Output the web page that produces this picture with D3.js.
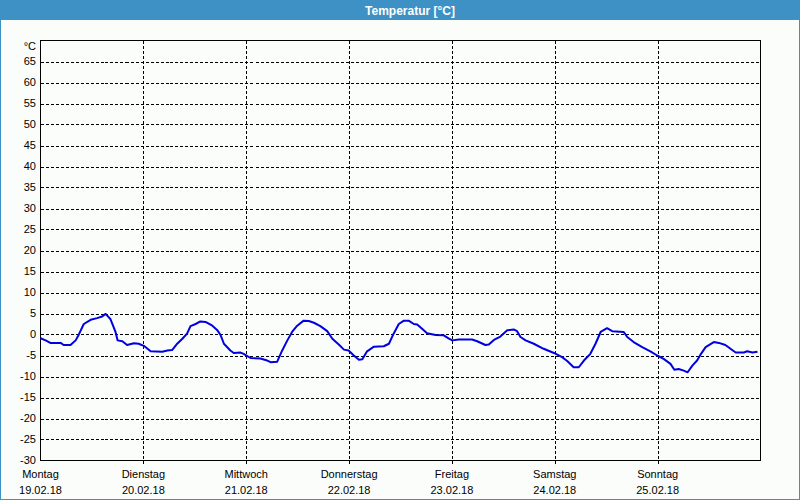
<!DOCTYPE html>
<html>
<head>
<meta charset="utf-8">
<script src="https://cdn.jsdelivr.net/npm/d3@7"></script>
<style>
  html, body { margin: 0; padding: 0; background: #fafdfa; }
  svg { display: block; }
  text { font-family: "Liberation Sans", Arial, sans-serif; }
</style>
</head>
<body>
<svg id="chart" width="800" height="500"></svg>
<script>
// ---- data ----
const title = "Temperatur [°C]";
const unitLabel = "°C";
const dayNames = ["Montag", "Dienstag", "Mittwoch", "Donnerstag", "Freitag", "Samstag", "Sonntag"];
const dayDates = ["19.02.18", "20.02.18", "21.02.18", "22.02.18", "23.02.18", "24.02.18", "25.02.18"];
const yTicks = [-30, -25, -20, -15, -10, -5, 0, 5, 10, 15, 20, 25, 30, 35, 40, 45, 50, 55, 60, 65];
// hours since Monday 19.02.18 00:00
const hours = [0, 1.2, 2.3, 4.7, 5.4, 7.0, 8.2, 8.9, 10.1, 11.7, 13.2, 14.4, 15.2, 16.3, 17.5, 18.0, 19.1, 20.2, 21.8, 22.9,
  24.1, 25.7, 28.4, 29.6, 30.7, 31.9, 33.1, 34.2, 35.0, 36.2, 37.3, 38.5, 40.1, 41.2, 42.0, 42.8, 44.3, 45.1, 46.7, 47.4,
  49.0, 51.3, 52.9, 53.7, 55.2, 56.4, 57.6, 58.7, 59.9, 61.4, 62.6, 63.8, 65.3, 66.9, 68.1, 69.6, 70.8, 71.9, 73.1, 74.3,
  75.1, 76.2, 77.8, 80.1, 81.3, 82.4, 83.6, 84.8, 85.9, 87.1, 87.9, 89.1, 90.2, 92.2, 94.1, 95.3, 96.1, 97.6, 100.7, 101.9,
  103.8, 104.6, 105.8, 107.3, 108.9, 110.4, 111.2, 112.0, 113.2, 115.1, 117.4, 119.8, 121.7, 122.9, 124.4, 125.6, 126.8, 128.3, 129.5, 130.7,
  132.2, 133.4, 136.1, 136.9, 138.4, 140.4, 142.3, 143.9, 145.4, 147.0, 147.9, 148.9, 150.1, 151.0, 152.1, 153.2, 154.0, 155.2, 157.1, 158.3,
  159.8, 161.0, 162.2, 164.1, 164.9, 166.1, 167.3];
const temps = [-0.9, -1.4, -2.0, -2.0, -2.5, -2.5, -1.4, -0.1, 2.5, 3.5, 3.9, 4.3, 4.9, 3.7, 0.6, -1.4, -1.6, -2.5, -2.1, -2.2,
  -2.7, -4.0, -4.1, -3.8, -3.7, -2.2, -1.0, 0.2, 2.0, 2.5, 3.1, 3.0, 2.1, 1.1, -0.1, -2.2, -3.8, -4.4, -4.3, -4.6,
  -5.6, -5.7, -6.2, -6.6, -6.5, -3.8, -1.4, 0.6, 2.1, 3.3, 3.2, 2.8, 2.0, 0.8, -1.0, -2.4, -3.6, -3.8, -5.0, -6.0,
  -5.9, -4.0, -2.9, -2.8, -2.2, 0.2, 2.5, 3.3, 3.3, 2.5, 2.4, 1.3, 0.3, -0.1, -0.2, -1.0, -1.4, -1.2, -1.2, -1.6,
  -2.5, -2.4, -1.3, -0.5, 1.0, 1.2, 0.8, -0.6, -1.4, -2.2, -3.4, -4.4, -5.4, -6.3, -7.8, -7.8, -6.2, -4.6, -2.2, 0.6,
  1.5, 0.8, 0.6, -0.6, -1.8, -3.0, -4.0, -5.0, -5.8, -7.0, -8.4, -8.2, -8.6, -9.0, -7.4, -6.2, -4.8, -3.0, -1.8, -2.0,
  -2.5, -3.4, -4.3, -4.3, -4.0, -4.3, -4.1];

// ---- layout ----
const W = 800, H = 500;
const plot = { left: 40.5, right: 760.5, top: 40.5, bottom: 460.5 };
const svg = d3.select("#chart");

// background + frame border
svg.append("rect").attr("x", 0).attr("y", 0).attr("width", W).attr("height", H).attr("fill", "#fafdfa");
svg.append("rect").attr("x", 0.5).attr("y", 0.5).attr("width", W - 1).attr("height", H - 1)
  .attr("fill", "none").attr("stroke", "#3d91c4").attr("stroke-width", 1);
// title bar
svg.append("rect").attr("x", 0).attr("y", 0).attr("width", W).attr("height", 20).attr("fill", "#3d91c4");
svg.append("text").attr("x", 410).attr("y", 14.5).attr("text-anchor", "middle")
  .attr("fill", "#ffffff").attr("font-weight", "bold").attr("font-size", "12px").text(title);

// scales
const x = d3.scaleLinear().domain([0, 168]).range([plot.left, plot.right]);
const y = d3.scaleLinear().domain([-30, 70]).range([plot.bottom, plot.top]);

// horizontal grid
const gridY = yTicks.filter(v => v > -30);
svg.append("g").selectAll("line").data(gridY).join("line")
  .attr("x1", plot.left).attr("x2", plot.right)
  .attr("y1", d => Math.round(y(d)) + 0.5).attr("y2", d => Math.round(y(d)) + 0.5)
  .attr("stroke", "#000").attr("stroke-width", 1).attr("stroke-dasharray", "3,2")
  .attr("shape-rendering", "crispEdges");

// vertical day grid
const dayIdx = d3.range(1, 7);
svg.append("g").selectAll("line").data(dayIdx).join("line")
  .attr("x1", d => Math.round(x(d * 24)) + 0.5).attr("x2", d => Math.round(x(d * 24)) + 0.5)
  .attr("y1", plot.top).attr("y2", plot.bottom + 3)
  .attr("stroke", "#000").attr("stroke-width", 1).attr("stroke-dasharray", "3,2")
  .attr("shape-rendering", "crispEdges");

// frame
svg.append("rect").attr("x", plot.left).attr("y", plot.top)
  .attr("width", plot.right - plot.left).attr("height", plot.bottom - plot.top)
  .attr("fill", "none").attr("stroke", "#000").attr("stroke-width", 1).attr("shape-rendering", "crispEdges");

// y tick labels
svg.append("g").selectAll("text").data(yTicks).join("text")
  .attr("x", 36).attr("y", d => y(d)).attr("dy", "0.36em")
  .attr("text-anchor", "end").attr("font-size", "11px").attr("fill", "#000")
  .text(d => d);
svg.append("text").attr("x", 36).attr("y", 46).attr("dy", "0.36em")
  .attr("text-anchor", "end").attr("font-size", "11px").attr("fill", "#000").text(unitLabel);

// x labels
const xl = svg.append("g");
xl.selectAll("text.day").data(dayNames).join("text").attr("class", "day")
  .attr("x", (d, i) => x(i * 24)).attr("y", 478).attr("text-anchor", "middle")
  .attr("font-size", "11px").attr("fill", "#000").text(d => d);
xl.selectAll("text.date").data(dayDates).join("text").attr("class", "date")
  .attr("x", (d, i) => x(i * 24)).attr("y", 494).attr("text-anchor", "middle")
  .attr("font-size", "11px").attr("fill", "#000").text(d => d);

// data line
const pts = hours.map((h, i) => [h, temps[i]]);
svg.append("path").datum(pts)
  .attr("fill", "none").attr("stroke", "#0000e0").attr("stroke-width", 2)
  .attr("stroke-linejoin", "round")
  .attr("d", d3.line().x(d => x(d[0])).y(d => y(d[1])));
</script>
</body>
</html>
